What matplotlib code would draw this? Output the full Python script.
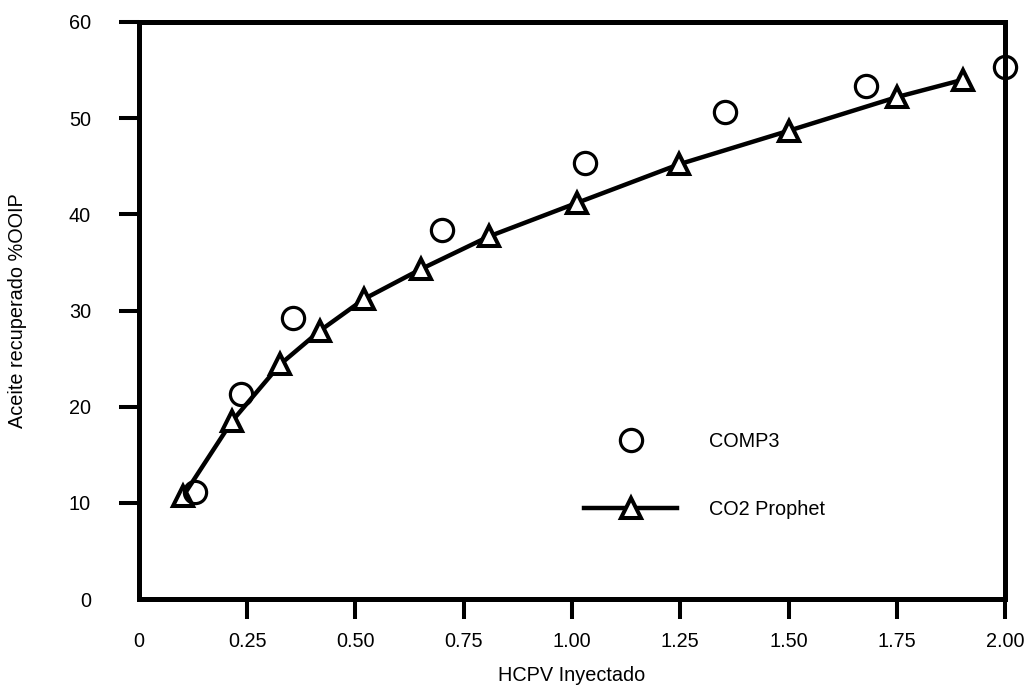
import matplotlib
matplotlib.use("Agg")
import matplotlib.pyplot as plt
from matplotlib.lines import Line2D

# Data
prophet_x = [0.102, 0.215, 0.326, 0.418, 0.520, 0.651, 0.808, 1.012, 1.247, 1.501, 1.751, 1.903]
prophet_y = [10.7, 18.5, 24.4, 27.9, 31.2, 34.3, 37.7, 41.2, 45.2, 48.7, 52.2, 54.0]
comp3_x = [0.129, 0.236, 0.356, 0.700, 1.030, 1.353, 1.679, 2.000]
comp3_y = [11.1, 21.3, 29.2, 38.4, 45.3, 50.6, 53.3, 55.3]

xticks = [0, 0.25, 0.50, 0.75, 1.00, 1.25, 1.50, 1.75, 2.00]
xticklabels = ["0", "0.25", "0.50", "0.75", "1.00", "1.25", "1.50", "1.75", "2.00"]
yticks = [0, 10, 20, 30, 40, 50, 60]
yticklabels = ["0", "10", "20", "30", "40", "50", "60"]

plt.rcParams['font.family'] = ['Liberation Sans', 'DejaVu Sans']
FS = 14.3

fig = plt.figure(figsize=(10.31, 6.85), dpi=100)
ax = fig.add_axes([0.1348, 0.1255, 0.8400, 0.8424])

ax.plot(prophet_x, prophet_y, color='black', lw=3.2, marker='^', ms=15,
        mfc='white', mec='black', mew=2.9, clip_on=False, zorder=3)
ax.plot(comp3_x, comp3_y, ls='none', marker='o', ms=16,
        mfc='none', mec='black', mew=2.3, clip_on=False, zorder=4)

ax.set_xlim(0, 2)
ax.set_ylim(0, 60)
ax.set_xticks(xticks)
ax.set_xticklabels(xticklabels, fontsize=FS)
ax.set_yticks(yticks)
ax.set_yticklabels(yticklabels, fontsize=FS)

for s in ax.spines.values():
    s.set_linewidth(3.6)
    s.set_color('black')

ax.tick_params(axis='both', direction='out', length=14.5, width=2.9, color='black')
ax.tick_params(axis='x', pad=9)
ax.tick_params(axis='y', pad=20)
ax.xaxis.get_major_ticks()[0].tick1line.set_visible(False)
ax.yaxis.get_major_ticks()[0].tick1line.set_visible(False)

ax.set_xlabel("HCPV Inyectado", fontsize=FS, labelpad=11)
ax.set_ylabel("Aceite recuperado %OOIP", fontsize=FS, labelpad=30)

handles = [
    Line2D([], [], ls='none', marker='o', ms=16, mfc='none', mec='black', mew=2.3),
    Line2D([], [], color='black', lw=3.2, marker='^', ms=15, mfc='white', mec='black', mew=2.9),
]
ax.legend(handles, ["COMP3", "CO2 Prophet"], loc='upper left',
          bbox_to_anchor=(0.514, 0.289), frameon=False, fontsize=FS,
          handlelength=4.7, handletextpad=1.6, labelspacing=2.45,
          borderpad=0, borderaxespad=0, numpoints=1)

fig.savefig("out.png", dpi=100)
